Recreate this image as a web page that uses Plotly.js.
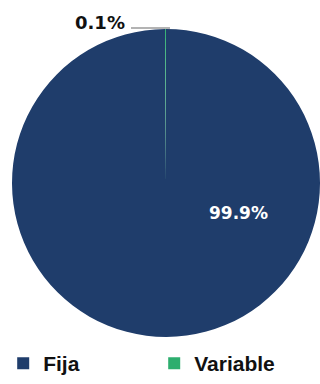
<!DOCTYPE html>
<html><head><meta charset="utf-8">
<script src="https://cdn.plot.ly/plotly-3.0.1.min.js"></script>
<style>body{margin:0}#c{width:320px;height:384px}</style>
</head><body><div id="c"></div>
<script>
const labels = ['Fija', 'Variable'];
const values = [99.9, 0.1];
const colors = ['#1F3D6B', '#2DAE6E'];
const pct = values.map(v => v.toFixed(1) + '%');

const trace = {
  type: 'pie', labels: labels, values: values, sort: false,
  direction: 'counterclockwise', rotation: 0,
  marker: {colors: colors, line: {width: 0}},
  textinfo: 'none', hoverinfo: 'label+percent',
  domain: {x: [0.0375, 1], y: [0.12, 0.927]}
};
const layout = {
  width: 320, height: 384, margin: {l: 0, r: 0, t: 0, b: 0},
  paper_bgcolor: '#ffffff', showlegend: true,
  font: {family: 'Liberation Sans, Arial, sans-serif'},
  legend: {orientation: 'h', x: 0.01, y: 0.0, xanchor: 'left', yanchor: 'bottom',
    bgcolor: 'rgba(0,0,0,0)',
    entrywidth: 106, entrywidthmode: 'pixels', traceorder: 'normal',
    font: {size: 21, color: '#111', family: 'Liberation Sans, Arial, sans-serif', weight: 'bold'}},
  annotations: [
    {x: 238, y: 213, xref: 'x', yref: 'y', text: '<b>' + pct[0] + '</b>', showarrow: false,
     font: {size: 17, color: '#ffffff', family: 'Verdana, DejaVu Sans, sans-serif'}},
    {x: 100, y: 22, xref: 'x', yref: 'y', text: '<b>' + pct[1] + '</b>', showarrow: false,
     font: {size: 18, color: '#111', family: 'Verdana, DejaVu Sans, sans-serif'}}
  ],
  shapes: [{type: 'line', xref: 'x', yref: 'y', x0: 131, y0: 28, x1: 170, y1: 28,
    line: {color: '#9a9a9a', width: 1.5}}],
  xaxis: {range: [0, 320], visible: false, fixedrange: true},
  yaxis: {range: [384, 0], visible: false, fixedrange: true}
};
Plotly.newPlot('c', [trace], layout, {displayModeBar: false, staticPlot: true});
</script></body></html>
